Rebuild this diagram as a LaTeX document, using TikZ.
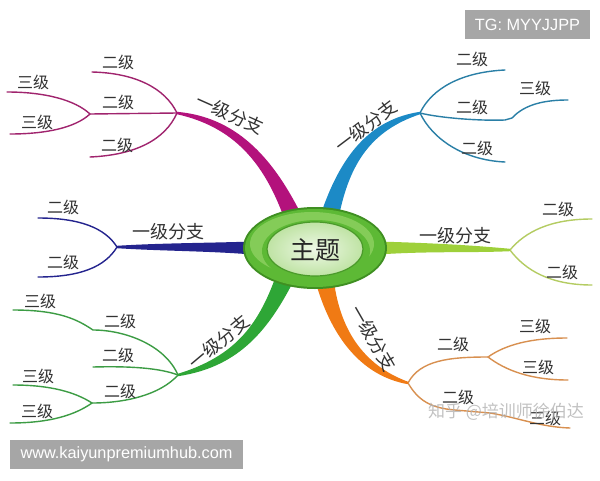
\documentclass[tikz,border=0pt]{standalone}
\usepackage{fontspec}
\setmainfont{Liberation Sans}
\newfontfamily\cjk{Noto Sans CJK SC}
\usetikzlibrary{calc,shapes.geometric}
\definecolor{cmag}{HTML}{B3127C}
\definecolor{cmagthin}{HTML}{A0246E}
\definecolor{cblue}{HTML}{1C8AC6}
\definecolor{cbluethin}{HTML}{2A7FA6}
\definecolor{cnavy}{HTML}{24248E}
\definecolor{cyg}{HTML}{9ED03A}
\definecolor{cygthin}{HTML}{B4CC62}
\definecolor{cgreen}{HTML}{2EA636}
\definecolor{cgreenthin}{HTML}{3C9C44}
\definecolor{corange}{HTML}{F07A14}
\definecolor{corangethin}{HTML}{D89050}
\definecolor{wmgray}{HTML}{A6A6A6}
\definecolor{ellEdge}{HTML}{3F8F22}
\definecolor{ellRing}{HTML}{5DB935}
\definecolor{ellHigh}{HTML}{84CC58}
\definecolor{ellInEdge}{HTML}{4A9A2A}
\definecolor{ellInOut}{HTML}{BFE3A4}
\definecolor{ellInIn}{HTML}{EEF8E6}
\newcommand\taperfill[8]{\fill[#1] ($#2!#6!90:#3$) .. controls ($#3!#7!90:#4$) and ($#4!#7!90:#5$) .. ($#5!#8!-90:#4$) -- ($#5!#8!90:#4$) .. controls ($#4!#7!-90:#5$) and ($#3!#7!-90:#4$) .. ($#2!#6!-90:#3$) -- cycle;}
\tikzset{
  thinbr/.style={line width=1.4pt, line cap=round},
  lvl/.style={font=\cjk\fontsize{16}{16}\selectfont, text=black!80, inner sep=0pt},
  lvlone/.style={font=\cjk\fontsize{18}{18}\selectfont, text=black!80, inner sep=0pt},
  wmbox/.style={fill=wmgray, text=white, font=\fontsize{16.3}{16.3}\selectfont, inner sep=0pt}
}
\begin{document}
\begin{tikzpicture}[x=1pt,y=-1pt]
\useasboundingbox (0,0) rectangle (600,480);
\fill[white] (0,0) rectangle (600,480);
% ---------- coordinates ----------
\coordinate (mS) at (292,215); \coordinate (M) at (177,113); \coordinate (M2) at (90,114);
\coordinate (bS) at (330,215); \coordinate (B) at (420,113);
\coordinate (nS) at (252,248); \coordinate (N) at (117,247);
\coordinate (yS) at (378,248); \coordinate (Y) at (510,250);
\coordinate (gS) at (284,280); \coordinate (G) at (178,375); \coordinate (GU) at (93,330); \coordinate (GL) at (92,403);
\coordinate (oS) at (325,282); \coordinate (O) at (408,383); \coordinate (OU) at (488,357); \coordinate (OL) at (490,413);
% ---------- magenta ----------
\draw[thinbr, cmagthin] (M) .. controls (165,88) and (135,73) .. (92,72);
\draw[thinbr, cmagthin] (M) -- (M2);
\draw[thinbr, cmagthin] (M2) .. controls (75,100) and (45,92) .. (7,92);
\draw[thinbr, cmagthin] (M2) .. controls (75,128) and (45,134) .. (10,134);
\draw[thinbr, cmagthin] (M) .. controls (165,140) and (135,155) .. (90,157);
\taperfill{cmag}{(mS)}{(268,160)}{(235,122)}{(M)}{8.5pt}{5pt}{1.2pt}
% ---------- blue ----------
\draw[thinbr, cbluethin] (B) .. controls (432,88) and (462,72) .. (505,70);
\draw[thinbr, cbluethin] (B) .. controls (440,118) and (480,121) .. (505,120) -- (512,118) .. controls (525,104) and (545,100) .. (568,100);
\draw[thinbr, cbluethin] (B) .. controls (432,138) and (462,160) .. (505,162);
\taperfill{cblue}{(bS)}{(345,160)}{(370,125)}{(B)}{9pt}{5.5pt}{1.2pt}
% ---------- navy ----------
\draw[thinbr, cnavy] (N) .. controls (105,228) and (80,218) .. (38,218);
\draw[thinbr, cnavy] (N) .. controls (105,267) and (80,277) .. (38,277);
\taperfill{cnavy}{(nS)}{(210,247)}{(160,247)}{(N)}{6.5pt}{4pt}{1.2pt}
% ---------- yellow-green ----------
\draw[thinbr, cygthin] (Y) .. controls (525,232) and (550,219) .. (592,219);
\draw[thinbr, cygthin] (Y) .. controls (525,270) and (550,285) .. (592,285);
\taperfill{cyg}{(yS)}{(430,247)}{(470,249)}{(Y)}{6.5pt}{4pt}{1.2pt}
% ---------- green ----------
\draw[thinbr, cgreenthin] (G) .. controls (165,345) and (125,330) .. (GU) .. controls (78,320) and (60,310) .. (13,310);
\draw[thinbr, cgreenthin] (G) .. controls (160,368) and (130,366) .. (93,367);
\draw[thinbr, cgreenthin] (G) .. controls (160,395) and (125,403) .. (GL);
\draw[thinbr, cgreenthin] (GL) .. controls (75,392) and (50,385) .. (13,385);
\draw[thinbr, cgreenthin] (GL) .. controls (75,415) and (50,423) .. (10,423);
\taperfill{cgreen}{(gS)}{(262,330)}{(235,362)}{(G)}{9pt}{5.5pt}{1.2pt}
% ---------- orange ----------
\draw[thinbr, corangethin] (O) .. controls (420,360) and (450,357) .. (OU);
\draw[thinbr, corangethin] (OU) .. controls (505,345) and (530,338) .. (567,338);
\draw[thinbr, corangethin] (OU) .. controls (505,370) and (530,380) .. (568,380);
\draw[thinbr, corangethin] (O) .. controls (418,400) and (430,408) .. (455,410) -- (OL) .. controls (520,418) and (540,427) .. (570,428);
\taperfill{corange}{(oS)}{(335,330)}{(360,370)}{(O)}{9pt}{5.5pt}{1.2pt}
% ---------- central topic ----------
\fill[ellEdge] (315,248) ellipse [x radius=72pt, y radius=41pt];
\fill[ellRing] (315,248) ellipse [x radius=70pt, y radius=39pt];
\fill[ellHigh] (312,244) ellipse [x radius=62pt, y radius=32pt];
\fill[ellRing] (316,251) ellipse [x radius=54pt, y radius=31pt];
\shade[inner color=ellInIn, outer color=ellInOut, draw=ellInEdge, line width=1.2pt] (315,249) ellipse [x radius=48pt, y radius=27pt];
\node[font=\cjk\fontsize{25}{25}\selectfont, text=black!85, inner sep=0pt] (topic) at (315,250) {主题};
% ---------- labels ----------
\node[lvlone, rotate=-24] (l1m) at (230,114) {一级分支};
\node[lvlone, rotate=37] (l1b) at (366,126) {一级分支};
\node[lvlone] (l1n) at (168,232) {一级分支};
\node[lvlone] (l1y) at (455,236) {一级分支};
\node[lvlone, rotate=40] (l1g) at (219,342) {一级分支};
\node[lvlone, rotate=-60] (l1o) at (373,338) {一级分支};
% magenta
\node[lvl] (m21) at (118,62) {二级};
\node[lvl] (m22) at (118,102) {二级};
\node[lvl] (m23) at (117,145) {二级};
\node[lvl] (m31) at (33,82) {三级};
\node[lvl] (m32) at (37,122) {三级};
% blue
\node[lvl] (b21) at (472,59) {二级};
\node[lvl] (b22) at (472,107) {二级};
\node[lvl] (b23) at (477,148) {二级};
\node[lvl] (b31) at (535,88) {三级};
% navy
\node[lvl] (n21) at (63,207) {二级};
\node[lvl] (n22) at (63,262) {二级};
% yellow-green
\node[lvl] (y21) at (558,209) {二级};
\node[lvl] (y22) at (562,272) {二级};
% green
\node[lvl] (g21) at (120,321) {二级};
\node[lvl] (g22) at (118,355) {二级};
\node[lvl] (g23) at (120,391) {二级};
\node[lvl] (g31) at (40,301) {三级};
\node[lvl] (g32) at (38,376) {三级};
\node[lvl] (g33) at (37,411) {三级};
% orange
\node[lvl] (o21) at (453,344) {二级};
\node[lvl] (o22) at (458,397) {二级};
\node[lvl] (o31) at (535,326) {三级};
\node[lvl] (o32) at (538,367) {三级};
\node[lvl] (o33) at (545,418) {三级};
% ---------- watermarks ----------
\node[font=\cjk\fontsize{17}{17}\selectfont, text=black!30, opacity=0.8, inner sep=0pt] (zh) at (506,412) {知乎 @培训师徐伯达};
\node[wmbox, minimum width=125pt, minimum height=29pt] (tg) at (527.5,24.5) {TG: MYYJJPP};
\node[wmbox, minimum width=233pt, minimum height=29pt] (www) at (126.5,454.5) {www.kaiyunpremiumhub.com};
\end{tikzpicture}
\end{document}
